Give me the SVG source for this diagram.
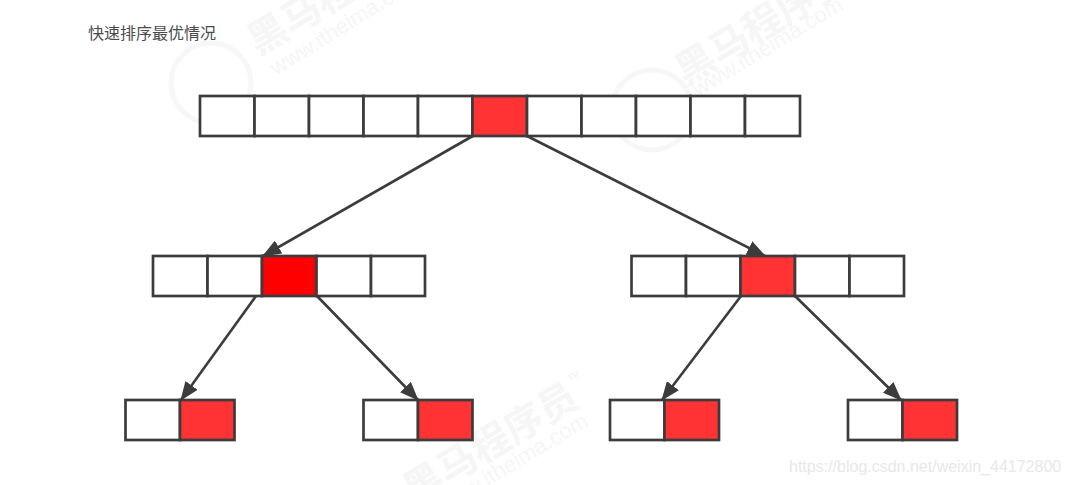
<svg xmlns="http://www.w3.org/2000/svg" width="1070" height="485" viewBox="0 0 1070 485">
<style>
.c{fill:#fff;stroke:#3c3c3c;stroke-width:2.7}
.r{fill:#ff3333;stroke:#3c3c3c;stroke-width:2.7}
.p{fill:#ff0000;stroke:#3c3c3c;stroke-width:2.7}
.l{fill:none;stroke:#3c3c3c;stroke-width:2.6;marker-end:url(#a)}
.t{font-family:"Noto Sans CJK SC","Liberation Sans",sans-serif;font-size:16px;fill:#4a4a4a}
.wm{font-family:"Noto Sans CJK SC","Liberation Sans",sans-serif;font-weight:700;font-size:39px;fill:#f6f6f6}
.ws{font-family:"Liberation Sans",sans-serif;font-size:22px;fill:#f6f6f6}
.tm{font-family:"Liberation Sans",sans-serif;font-size:8px;fill:#f0f0f0}
.u{font-family:"Liberation Sans",sans-serif;font-size:16px;fill:#e8e8e8}
.ring{fill:none;stroke:#f7f7f7;stroke-width:5}
</style>
<defs>
<marker id="a" viewBox="0 0 19 15" refX="18" refY="7.5" markerWidth="19" markerHeight="15" markerUnits="userSpaceOnUse" orient="auto"><path d="M0 0L19 7.5L0 15Z" fill="#3c3c3c"/></marker>
</defs>
<rect width="1070" height="485" fill="#fff"/>
<g id="watermark">
<circle class="ring" cx="211" cy="83" r="40"/>
<circle class="ring" cx="652" cy="110" r="40"/>
<text class="wm" transform="translate(258 56) rotate(-31)">黑马程序员</text>
<text class="ws" transform="translate(276 76) rotate(-32)">www.itheima.com</text>
<text class="wm" transform="translate(686 86) rotate(-31)">黑马程序员</text>
<text class="ws" transform="translate(698 97) rotate(-31)">www.itheima.com</text>
<text class="wm" transform="translate(414 505) rotate(-31)">黑马程序员</text>
<text class="tm" transform="translate(570 381) rotate(-31)">TM</text>
<text class="ws" transform="translate(443 513) rotate(-31)">www.itheima.com</text>
<text class="u" x="789" y="472">https://blog.csdn.net/weixin_44172800</text>
</g>
<text id="title" class="t" x="88" y="39">快速排序最优情况</text>
<g id="connectors">
<path class="l" d="M472.7 136L263 256"/>
<path class="l" d="M527 136L765 256"/>
<path class="l" d="M256 296L181 400"/>
<path class="l" d="M317 296L418 400"/>
<path class="l" d="M741 296L662 400"/>
<path class="l" d="M795 296L901 400"/>
</g>
<g id="node-top">
<rect class="c" x="200" y="96" width="54.5" height="40"/>
<rect class="c" x="254.5" y="96" width="54.5" height="40"/>
<rect class="c" x="309" y="96" width="54.5" height="40"/>
<rect class="c" x="363.5" y="96" width="54.5" height="40"/>
<rect class="c" x="418" y="96" width="54.5" height="40"/>
<rect class="r" x="472.5" y="96" width="54.5" height="40"/>
<rect class="c" x="527" y="96" width="54.5" height="40"/>
<rect class="c" x="581.5" y="96" width="54.5" height="40"/>
<rect class="c" x="636" y="96" width="54.5" height="40"/>
<rect class="c" x="690.5" y="96" width="54.5" height="40"/>
<rect class="c" x="745" y="96" width="55" height="40"/>
</g>
<g id="node-mid-left">
<rect class="c" x="153" y="256" width="54.5" height="40"/>
<rect class="c" x="207.5" y="256" width="54.5" height="40"/>
<rect class="p" x="262" y="256" width="54.5" height="40"/>
<rect class="c" x="316.5" y="256" width="54.5" height="40"/>
<rect class="c" x="371" y="256" width="54" height="40"/>
</g>
<g id="node-mid-right">
<rect class="c" x="631.5" y="256" width="54.5" height="40"/>
<rect class="c" x="686" y="256" width="54.5" height="40"/>
<rect class="r" x="740.5" y="256" width="54.5" height="40"/>
<rect class="c" x="795" y="256" width="54.5" height="40"/>
<rect class="c" x="849.5" y="256" width="54.5" height="40"/>
</g>
<g id="node-leaf-1">
<rect class="c" x="125.5" y="400" width="54.5" height="40"/>
<rect class="r" x="180" y="400" width="54.5" height="40"/>
</g>
<g id="node-leaf-2">
<rect class="c" x="363.5" y="400" width="54.5" height="40"/>
<rect class="r" x="418" y="400" width="54.5" height="40"/>
</g>
<g id="node-leaf-3">
<rect class="c" x="610" y="400" width="54.5" height="40"/>
<rect class="r" x="664.5" y="400" width="54.5" height="40"/>
</g>
<g id="node-leaf-4">
<rect class="c" x="848" y="400" width="54.5" height="40"/>
<rect class="r" x="902.5" y="400" width="54.5" height="40"/>
</g>
</svg>
